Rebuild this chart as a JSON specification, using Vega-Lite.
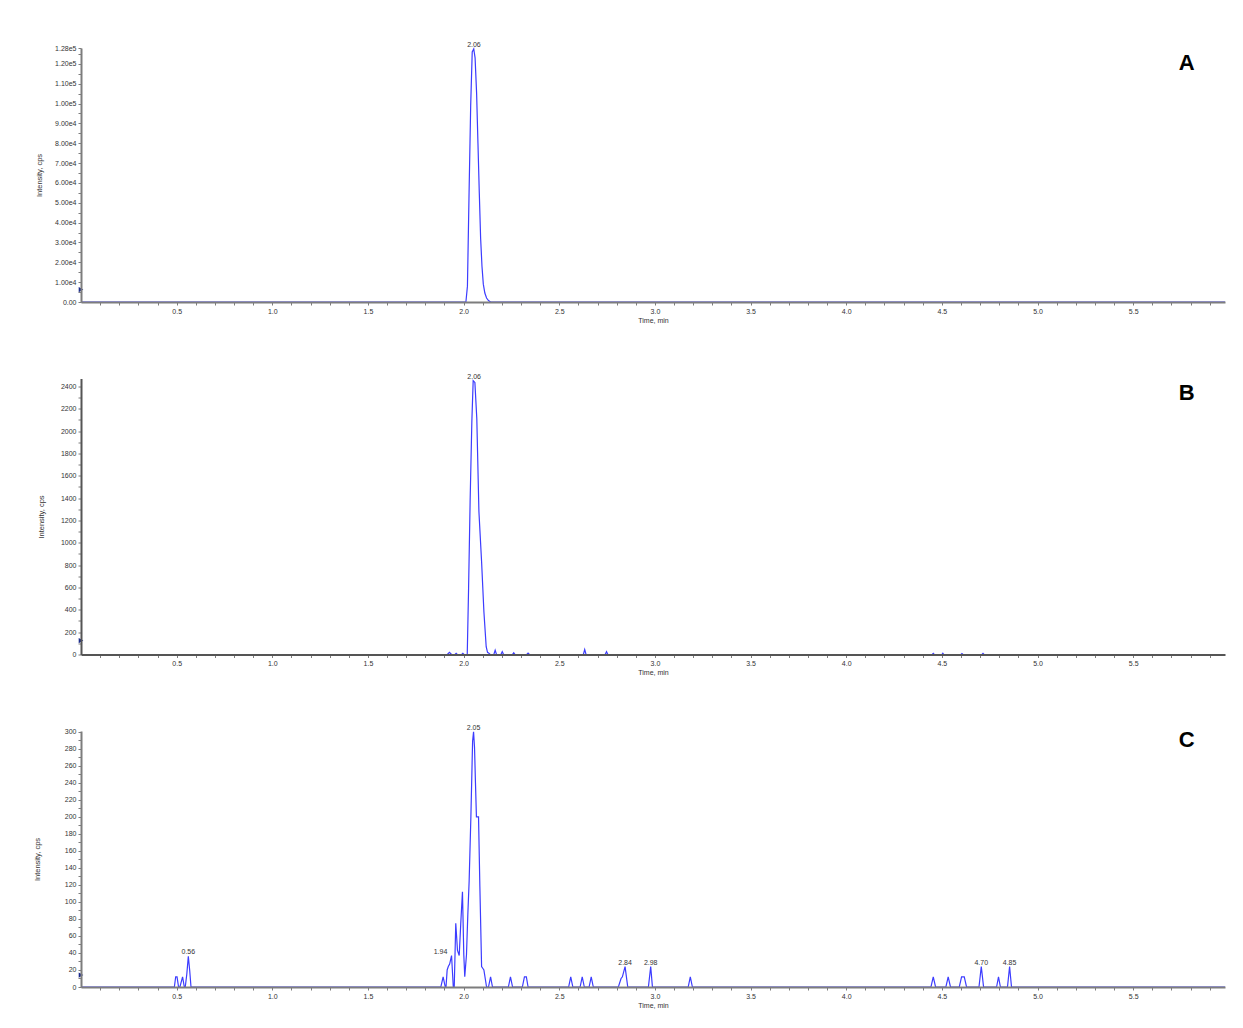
{
  "$schema": "https://vega.github.io/schema/vega-lite/v6.json",
  "background": "white",
  "padding": {"left": 33, "top": 40, "right": 5, "bottom": 5},
  "bounds": "flush",
  "spacing": 76.5,
  "config": {
    "font": "Liberation Sans",
    "view": {"stroke": null},
    "axis": {
      "domainColor": "#7d7d7d", "domainWidth": 2, "tickColor": "#7d7d7d", "tickSize": 3, "tickWidth": 1, "tickCount": 1000,
      "labelFontSize": 7, "labelColor": "#333333", "labelPadding": 2, "labelOverlap": false, "labelBound": false, "labelFlush": false,
      "titleFontSize": 7.5, "titleFontWeight": "normal", "titleColor": "#333333", "grid": false, "zindex": 2,
      "labelFont": "Liberation Sans", "titleFont": "Liberation Sans"
    }
  },
  "datasets": {
    "chrom": [
      {"panel": "A", "t": 0, "v": 0}, {"panel": "A", "t": 2.012, "v": 0}, {"panel": "A", "t": 2.02, "v": 8000},
      {"panel": "A", "t": 2.028, "v": 52000}, {"panel": "A", "t": 2.037, "v": 99000}, {"panel": "A", "t": 2.045, "v": 126000},
      {"panel": "A", "t": 2.053, "v": 127500}, {"panel": "A", "t": 2.06, "v": 123000}, {"panel": "A", "t": 2.068, "v": 105000},
      {"panel": "A", "t": 2.075, "v": 80000}, {"panel": "A", "t": 2.082, "v": 55000}, {"panel": "A", "t": 2.089, "v": 32000},
      {"panel": "A", "t": 2.096, "v": 18000}, {"panel": "A", "t": 2.103, "v": 9000}, {"panel": "A", "t": 2.111, "v": 4500},
      {"panel": "A", "t": 2.12, "v": 2000}, {"panel": "A", "t": 2.13, "v": 700}, {"panel": "A", "t": 2.141, "v": 0},
      {"panel": "A", "t": 5.98, "v": 0},

      {"panel": "B", "t": 0, "v": 0}, {"panel": "B", "t": 1.915, "v": 0}, {"panel": "B", "t": 1.926, "v": 20}, {"panel": "B", "t": 1.937, "v": 0},
      {"panel": "B", "t": 1.955, "v": 0}, {"panel": "B", "t": 1.961, "v": 10}, {"panel": "B", "t": 1.967, "v": 0},
      {"panel": "B", "t": 1.99, "v": 0}, {"panel": "B", "t": 1.996, "v": 10}, {"panel": "B", "t": 2.002, "v": 0},
      {"panel": "B", "t": 2.019, "v": 0}, {"panel": "B", "t": 2.026, "v": 590}, {"panel": "B", "t": 2.034, "v": 1365},
      {"panel": "B", "t": 2.043, "v": 2080}, {"panel": "B", "t": 2.05, "v": 2450}, {"panel": "B", "t": 2.059, "v": 2435},
      {"panel": "B", "t": 2.069, "v": 2110}, {"panel": "B", "t": 2.08, "v": 1280}, {"panel": "B", "t": 2.094, "v": 830},
      {"panel": "B", "t": 2.106, "v": 385}, {"panel": "B", "t": 2.118, "v": 70}, {"panel": "B", "t": 2.125, "v": 20},
      {"panel": "B", "t": 2.132, "v": 12}, {"panel": "B", "t": 2.139, "v": 0},
      {"panel": "B", "t": 2.158, "v": 0}, {"panel": "B", "t": 2.165, "v": 38}, {"panel": "B", "t": 2.172, "v": 0},
      {"panel": "B", "t": 2.195, "v": 0}, {"panel": "B", "t": 2.202, "v": 25}, {"panel": "B", "t": 2.209, "v": 0},
      {"panel": "B", "t": 2.255, "v": 0}, {"panel": "B", "t": 2.262, "v": 15}, {"panel": "B", "t": 2.269, "v": 0},
      {"panel": "B", "t": 2.33, "v": 0}, {"panel": "B", "t": 2.337, "v": 12}, {"panel": "B", "t": 2.344, "v": 0},
      {"panel": "B", "t": 2.626, "v": 0}, {"panel": "B", "t": 2.633, "v": 45}, {"panel": "B", "t": 2.64, "v": 0},
      {"panel": "B", "t": 2.74, "v": 0}, {"panel": "B", "t": 2.747, "v": 25}, {"panel": "B", "t": 2.754, "v": 0},
      {"panel": "B", "t": 4.45, "v": 0}, {"panel": "B", "t": 4.455, "v": 10}, {"panel": "B", "t": 4.46, "v": 0},
      {"panel": "B", "t": 4.5, "v": 0}, {"panel": "B", "t": 4.505, "v": 12}, {"panel": "B", "t": 4.51, "v": 0},
      {"panel": "B", "t": 4.6, "v": 0}, {"panel": "B", "t": 4.605, "v": 8}, {"panel": "B", "t": 4.61, "v": 0},
      {"panel": "B", "t": 4.71, "v": 0}, {"panel": "B", "t": 4.715, "v": 10}, {"panel": "B", "t": 4.72, "v": 0},
      {"panel": "B", "t": 5.98, "v": 0},

      {"panel": "C", "t": 0, "v": 0},
      {"panel": "C", "t": 0.488, "v": 0}, {"panel": "C", "t": 0.495, "v": 12}, {"panel": "C", "t": 0.502, "v": 12}, {"panel": "C", "t": 0.51, "v": 0},
      {"panel": "C", "t": 0.517, "v": 0}, {"panel": "C", "t": 0.531, "v": 12}, {"panel": "C", "t": 0.54, "v": 0},
      {"panel": "C", "t": 0.545, "v": 0}, {"panel": "C", "t": 0.553, "v": 15}, {"panel": "C", "t": 0.561, "v": 36}, {"panel": "C", "t": 0.568, "v": 20}, {"panel": "C", "t": 0.575, "v": 0},
      {"panel": "C", "t": 1.881, "v": 0}, {"panel": "C", "t": 1.893, "v": 12}, {"panel": "C", "t": 1.904, "v": 0},
      {"panel": "C", "t": 1.908, "v": 0}, {"panel": "C", "t": 1.914, "v": 20}, {"panel": "C", "t": 1.92, "v": 24}, {"panel": "C", "t": 1.927, "v": 27},
      {"panel": "C", "t": 1.937, "v": 37}, {"panel": "C", "t": 1.946, "v": 0}, {"panel": "C", "t": 1.951, "v": 0},
      {"panel": "C", "t": 1.959, "v": 75}, {"panel": "C", "t": 1.968, "v": 43}, {"panel": "C", "t": 1.977, "v": 37},
      {"panel": "C", "t": 1.985, "v": 74}, {"panel": "C", "t": 1.994, "v": 112}, {"panel": "C", "t": 2.001, "v": 38},
      {"panel": "C", "t": 2.006, "v": 12}, {"panel": "C", "t": 2.015, "v": 38}, {"panel": "C", "t": 2.022, "v": 85},
      {"panel": "C", "t": 2.029, "v": 125}, {"panel": "C", "t": 2.038, "v": 200}, {"panel": "C", "t": 2.047, "v": 289},
      {"panel": "C", "t": 2.052, "v": 300}, {"panel": "C", "t": 2.057, "v": 282}, {"panel": "C", "t": 2.062, "v": 240},
      {"panel": "C", "t": 2.067, "v": 200}, {"panel": "C", "t": 2.078, "v": 200}, {"panel": "C", "t": 2.085, "v": 118},
      {"panel": "C", "t": 2.094, "v": 24}, {"panel": "C", "t": 2.1, "v": 22}, {"panel": "C", "t": 2.106, "v": 20}, {"panel": "C", "t": 2.12, "v": 0},
      {"panel": "C", "t": 2.13, "v": 0}, {"panel": "C", "t": 2.141, "v": 12}, {"panel": "C", "t": 2.151, "v": 0},
      {"panel": "C", "t": 2.234, "v": 0}, {"panel": "C", "t": 2.245, "v": 12}, {"panel": "C", "t": 2.256, "v": 0},
      {"panel": "C", "t": 2.307, "v": 0}, {"panel": "C", "t": 2.318, "v": 12}, {"panel": "C", "t": 2.328, "v": 12}, {"panel": "C", "t": 2.337, "v": 0},
      {"panel": "C", "t": 2.549, "v": 0}, {"panel": "C", "t": 2.56, "v": 12}, {"panel": "C", "t": 2.571, "v": 0},
      {"panel": "C", "t": 2.609, "v": 0}, {"panel": "C", "t": 2.62, "v": 12}, {"panel": "C", "t": 2.631, "v": 0},
      {"panel": "C", "t": 2.656, "v": 0}, {"panel": "C", "t": 2.667, "v": 12}, {"panel": "C", "t": 2.678, "v": 0},
      {"panel": "C", "t": 2.809, "v": 0}, {"panel": "C", "t": 2.823, "v": 10}, {"panel": "C", "t": 2.83, "v": 12}, {"panel": "C", "t": 2.844, "v": 24}, {"panel": "C", "t": 2.858, "v": 0},
      {"panel": "C", "t": 2.966, "v": 0}, {"panel": "C", "t": 2.978, "v": 24}, {"panel": "C", "t": 2.987, "v": 0},
      {"panel": "C", "t": 3.174, "v": 0}, {"panel": "C", "t": 3.185, "v": 12}, {"panel": "C", "t": 3.196, "v": 0},
      {"panel": "C", "t": 4.443, "v": 0}, {"panel": "C", "t": 4.455, "v": 12}, {"panel": "C", "t": 4.467, "v": 0},
      {"panel": "C", "t": 4.521, "v": 0}, {"panel": "C", "t": 4.533, "v": 12}, {"panel": "C", "t": 4.545, "v": 0},
      {"panel": "C", "t": 4.591, "v": 0}, {"panel": "C", "t": 4.603, "v": 12}, {"panel": "C", "t": 4.617, "v": 12}, {"panel": "C", "t": 4.629, "v": 0},
      {"panel": "C", "t": 4.694, "v": 0}, {"panel": "C", "t": 4.706, "v": 24}, {"panel": "C", "t": 4.718, "v": 0},
      {"panel": "C", "t": 4.786, "v": 0}, {"panel": "C", "t": 4.796, "v": 12}, {"panel": "C", "t": 4.806, "v": 0},
      {"panel": "C", "t": 4.843, "v": 0}, {"panel": "C", "t": 4.854, "v": 24}, {"panel": "C", "t": 4.864, "v": 0},
      {"panel": "C", "t": 5.98, "v": 0}
    ],
    "peaks": [
      {"panel": "A", "t": 2.054, "v": 127500, "label": "2.06"},
      {"panel": "B", "t": 2.055, "v": 2450, "label": "2.06"},
      {"panel": "C", "t": 2.052, "v": 300, "label": "2.05"},
      {"panel": "C", "t": 0.561, "v": 36, "label": "0.56"},
      {"panel": "C", "t": 1.879, "v": 37, "label": "1.94"},
      {"panel": "C", "t": 2.844, "v": 24, "label": "2.84"},
      {"panel": "C", "t": 2.978, "v": 24, "label": "2.98"},
      {"panel": "C", "t": 4.706, "v": 24, "label": "4.70"},
      {"panel": "C", "t": 4.854, "v": 24, "label": "4.85"}
    ]
  },
  "vconcat": [
    {
      "width": 1144, "height": 254,
      "layer": [
        {
          "data": {"name": "chrom"}, "transform": [{"filter": "datum.panel === 'A'"}],
          "mark": {"type": "line", "color": "#3c3cff", "strokeWidth": 1.2},
          "encoding": {
            "x": {"field": "t", "type": "quantitative", "scale": {"domain": [0, 5.98], "nice": false, "zero": false},
              "axis": {"values": [0.1,0.2,0.3,0.4,0.5,0.6,0.7,0.8,0.9,1.0,1.1,1.2,1.3,1.4,1.5,1.6,1.7,1.8,1.9,2.0,2.1,2.2,2.3,2.4,2.5,2.6,2.7,2.8,2.9,3.0,3.1,3.2,3.3,3.4,3.5,3.6,3.7,3.8,3.9,4.0,4.1,4.2,4.3,4.4,4.5,4.6,4.7,4.8,4.9,5.0,5.1,5.2,5.3,5.4,5.5,5.6,5.7,5.8,5.9],
                "tickCount": 1000, "zindex": 2,
                "labelExpr": "round(datum.value*10) % 5 == 0 ? format(datum.value, '.1f') : ''", "title": "Time, min", "titleFontSize": 7, "titlePadding": 2}},
            "y": {"field": "v", "type": "quantitative", "scale": {"domain": [0, 128000], "nice": false},
              "axis": {"values": [0,5000,10000,15000,20000,25000,30000,35000,40000,45000,50000,55000,60000,65000,70000,75000,80000,85000,90000,95000,100000,105000,110000,115000,120000,125000,128000],
                "tickCount": 1000, "zindex": 2,
                "labelExpr": "datum.value == 0 ? '0.00' : ((datum.value % 10000 == 0 || datum.value == 128000) ? replace(format(datum.value, '.2e'), '+', '') : '')",
                "title": "Intensity, cps", "titleX": -38}}
          }
        },
        {
          "data": {"name": "peaks"}, "transform": [{"filter": "datum.panel === 'A'"}],
          "mark": {"type": "text", "baseline": "bottom", "dy": -1, "fontSize": 7, "color": "#333333"},
          "encoding": {"x": {"field": "t", "type": "quantitative"}, "y": {"field": "v", "type": "quantitative"}, "text": {"field": "label"}}
        },
        {
          "data": {"values": [{}]},
          "mark": {"type": "point", "shape": "triangle-right", "filled": true, "color": "#1a2a8a", "size": 28, "opacity": 1},
          "encoding": {"x": {"datum": 0}, "y": {"datum": 6250}}
        },
        {
          "data": {"values": [{}]},
          "mark": {"type": "text", "fontSize": 22, "fontWeight": "bold", "color": "#000000", "font": "Liberation Sans"},
          "encoding": {"x": {"datum": 5.78}, "y": {"datum": 120300}, "text": {"value": "A"}}
        }
      ]
    },
    {
      "width": 1144, "height": 276,
      "layer": [
        {
          "data": {"name": "chrom"}, "transform": [{"filter": "datum.panel === 'B'"}],
          "mark": {"type": "line", "color": "#3c3cff", "strokeWidth": 1.2},
          "encoding": {
            "x": {"field": "t", "type": "quantitative", "scale": {"domain": [0, 5.98], "nice": false, "zero": false},
              "axis": {"values": [0.1,0.2,0.3,0.4,0.5,0.6,0.7,0.8,0.9,1.0,1.1,1.2,1.3,1.4,1.5,1.6,1.7,1.8,1.9,2.0,2.1,2.2,2.3,2.4,2.5,2.6,2.7,2.8,2.9,3.0,3.1,3.2,3.3,3.4,3.5,3.6,3.7,3.8,3.9,4.0,4.1,4.2,4.3,4.4,4.5,4.6,4.7,4.8,4.9,5.0,5.1,5.2,5.3,5.4,5.5,5.6,5.7,5.8,5.9],
                "tickCount": 1000, "zindex": 2,
                "labelExpr": "round(datum.value*10) % 5 == 0 ? format(datum.value, '.1f') : ''", "title": "Time, min", "titleFontSize": 7, "titlePadding": 2, "domainColor": "#555555"}},
            "y": {"field": "v", "type": "quantitative", "scale": {"domain": [0, 2470], "nice": false},
              "axis": {"values": [0,100,200,300,400,500,600,700,800,900,1000,1100,1200,1300,1400,1500,1600,1700,1800,1900,2000,2100,2200,2300,2400],
                "tickCount": 1000, "zindex": 2,
                "labelExpr": "datum.value % 200 == 0 ? format(datum.value, 'd') : ''",
                "title": "Intensity, cps", "titleX": -36, "domainColor": "#555555"}}
          }
        },
        {
          "data": {"name": "peaks"}, "transform": [{"filter": "datum.panel === 'B'"}],
          "mark": {"type": "text", "baseline": "bottom", "dy": -1, "fontSize": 7, "color": "#333333"},
          "encoding": {"x": {"field": "t", "type": "quantitative"}, "y": {"field": "v", "type": "quantitative"}, "text": {"field": "label"}}
        },
        {
          "data": {"values": [{}]},
          "mark": {"type": "point", "shape": "triangle-right", "filled": true, "color": "#1a2a8a", "size": 28, "opacity": 1},
          "encoding": {"x": {"datum": 0}, "y": {"datum": 125}}
        },
        {
          "data": {"values": [{}]},
          "mark": {"type": "text", "fontSize": 22, "fontWeight": "bold", "color": "#000000", "font": "Liberation Sans"},
          "encoding": {"x": {"datum": 5.78}, "y": {"datum": 2339}, "text": {"value": "B"}}
        }
      ]
    },
    {
      "width": 1144, "height": 256,
      "layer": [
        {
          "data": {"name": "chrom"}, "transform": [{"filter": "datum.panel === 'C'"}],
          "mark": {"type": "line", "color": "#3c3cff", "strokeWidth": 1.2},
          "encoding": {
            "x": {"field": "t", "type": "quantitative", "scale": {"domain": [0, 5.98], "nice": false, "zero": false},
              "axis": {"values": [0.1,0.2,0.3,0.4,0.5,0.6,0.7,0.8,0.9,1.0,1.1,1.2,1.3,1.4,1.5,1.6,1.7,1.8,1.9,2.0,2.1,2.2,2.3,2.4,2.5,2.6,2.7,2.8,2.9,3.0,3.1,3.2,3.3,3.4,3.5,3.6,3.7,3.8,3.9,4.0,4.1,4.2,4.3,4.4,4.5,4.6,4.7,4.8,4.9,5.0,5.1,5.2,5.3,5.4,5.5,5.6,5.7,5.8,5.9],
                "tickCount": 1000, "zindex": 2,
                "labelExpr": "round(datum.value*10) % 5 == 0 ? format(datum.value, '.1f') : ''", "title": "Time, min", "titleFontSize": 7, "titlePadding": 2}},
            "y": {"field": "v", "type": "quantitative", "scale": {"domain": [0, 301], "nice": false},
              "axis": {"values": [0,10,20,30,40,50,60,70,80,90,100,110,120,130,140,150,160,170,180,190,200,210,220,230,240,250,260,270,280,290,300],
                "tickCount": 1000, "zindex": 2,
                "labelExpr": "datum.value % 20 == 0 ? format(datum.value, 'd') : ''",
                "title": "Intensity, cps", "titleX": -40}}
          }
        },
        {
          "data": {"name": "peaks"}, "transform": [{"filter": "datum.panel === 'C'"}],
          "mark": {"type": "text", "baseline": "bottom", "dy": -1, "fontSize": 7, "color": "#333333"},
          "encoding": {"x": {"field": "t", "type": "quantitative"}, "y": {"field": "v", "type": "quantitative"}, "text": {"field": "label"}}
        },
        {
          "data": {"values": [{}]},
          "mark": {"type": "point", "shape": "triangle-right", "filled": true, "color": "#1a2a8a", "size": 28, "opacity": 1},
          "encoding": {"x": {"datum": 0}, "y": {"datum": 14}}
        },
        {
          "data": {"values": [{}]},
          "mark": {"type": "text", "fontSize": 22, "fontWeight": "bold", "color": "#000000", "font": "Liberation Sans"},
          "encoding": {"x": {"datum": 5.78}, "y": {"datum": 290}, "text": {"value": "C"}}
        }
      ]
    }
  ]
}
